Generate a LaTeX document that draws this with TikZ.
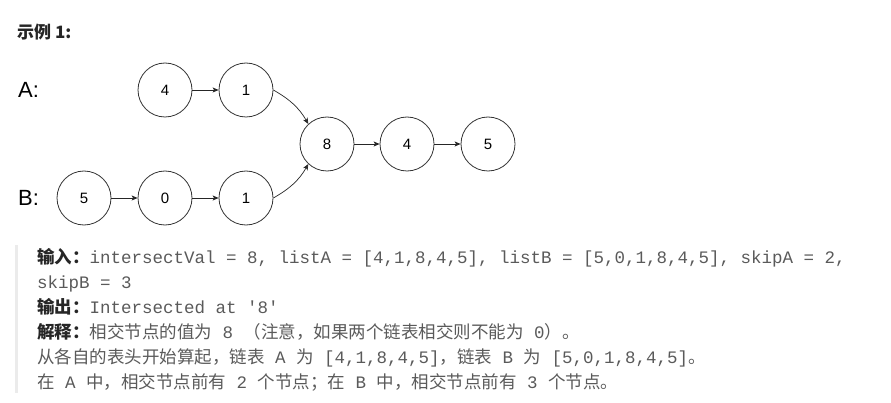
\documentclass[tikz,border=0pt]{standalone}
\usepackage{fontspec}
\setmainfont{Liberation Sans}
\setmonofont{Liberation Mono}
\newfontfamily\cjk{Noto Sans CJK SC}
\usetikzlibrary{arrows.meta}
\definecolor{txtgray}{HTML}{5A5A5A}
\definecolor{lblblack}{HTML}{262626}
\definecolor{barcol}{HTML}{EBEBEB}
\newcommand{\hdtxt}[1]{{\color{lblblack}\cjk\bfseries #1}}
\newcommand{\zhtxt}[1]{{\cjk #1}}

\begin{document}
\begin{tikzpicture}[x=1pt, y=1pt,
  nd/.style={draw=black!80, line width=0.8pt, circle, minimum size=54pt, inner sep=0pt, font=\fontsize{15}{16}\selectfont},
  ab/.style={anchor=west, inner sep=0pt, font=\fontsize{22}{24}\selectfont},
  ar/.style={-{Stealth[length=6pt,width=5pt,inset=1.5pt]}, line width=0.7pt, draw=black!85},
  ln/.style={anchor=base west, inner sep=0pt, text=txtgray, font=\fontsize{17.5}{25}\selectfont\ttfamily}
]
\useasboundingbox (0,0) rectangle (891,402);
\node[anchor=west, inner sep=0pt, text=lblblack, font=\fontsize{17}{19}\selectfont\cjk\bfseries] (title) at (17,370) {示例 1:};
% list A
\node[ab] (la) at (18,312) {A:};
\node[nd] (a4) at (165,312) {4};
\node[nd] (a1) at (246,312) {1};
% shared tail
\node[nd] (c8) at (327,258) {8};
\node[nd] (c4) at (407,258) {4};
\node[nd] (c5) at (488,258) {5};
% list B
\node[ab] (lb) at (18,204) {B:};
\node[nd] (b5) at (84,204) {5};
\node[nd] (b0) at (165,204) {0};
\node[nd] (b1) at (246,204) {1};
\foreach \s/\t in {a4/a1,c8/c4,c4/c5,b5/b0,b0/b1} {\draw[ar] (\s) -- (\t);}
\draw[ar] (a1.east) to[out=-30,in=120] (c8.133);
\draw[ar] (b1.east) to[out=30,in=240] (c8.227);
% explanation block
\draw[barcol, line width=3pt] (16,157) -- (16,9);
\node[ln] (l1) at (37,139) {\hdtxt{输入：}intersectVal = 8, listA = [4,1,8,4,5], listB = [5,0,1,8,4,5], skipA = 2,};
\node[ln] (l2) at (37,114) {skipB = 3};
\node[ln] (l3) at (37,88.5) {\hdtxt{输出：}Intersected at \textquotesingle8\textquotesingle};
\node[ln] (l4) at (37,63.5) {\hdtxt{解释：}\zhtxt{相交节点的值为} 8 \zhtxt{（注意，如果两个链表相交则不能为} 0\zhtxt{）。}};
\node[ln] (l5) at (37,38.5) {\zhtxt{从各自的表头开始算起，链表} A \zhtxt{为} [4,1,8,4,5]\zhtxt{，链表} B \zhtxt{为} [5,0,1,8,4,5]\zhtxt{。}};
\node[ln] (l6) at (37,13.5) {\zhtxt{在} A \zhtxt{中，相交节点前有} 2 \zhtxt{个节点；在} B \zhtxt{中，相交节点前有} 3 \zhtxt{个节点。}};
\end{tikzpicture}
\end{document}
